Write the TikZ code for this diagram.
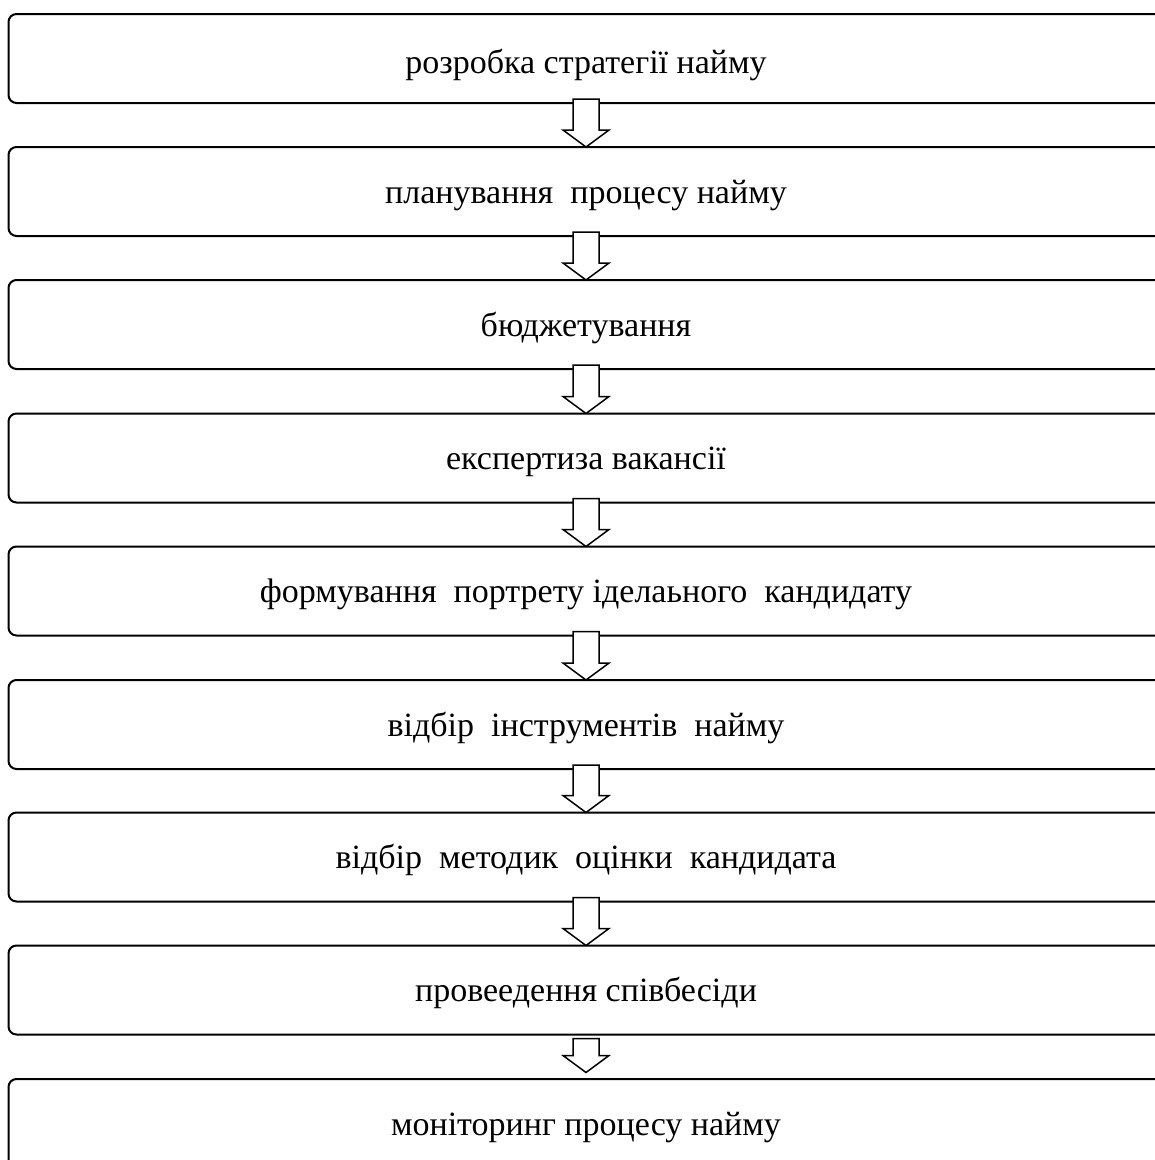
\documentclass[tikz,border=0pt]{standalone}
\usepackage{fontspec}
\setmainfont{Liberation Serif}
\usetikzlibrary{calc}
\tikzset{
  stagebox/.style={draw=black, line width=2pt, rounded corners=8pt, fill=none,
    minimum width=1155pt, minimum height=89pt, inner sep=0pt, outer sep=0pt,
    text height=28pt, text depth=5pt, font=\fontsize{34}{38}\selectfont, anchor=north},
  blockarrow/.style={draw=black, line width=1.5pt, fill=white, line join=miter}
}
\begin{document}
\begin{tikzpicture}[x=1pt, y=-1pt]
\useasboundingbox (0,0) rectangle (1155,1160);
\fill[white] (0,0) rectangle (1155,1160);
\node[stagebox, text height=32pt, text depth=3pt] (b1) at (586,14) {розробка стратегії найму};
\node[stagebox] (b2) at (586,147) {планування\ \ процесу найму};
\node[stagebox] (b3) at (586,280) {бюджетування};
\node[stagebox] (b4) at (586,413.5) {експертиза вакансії};
\node[stagebox] (b5) at (586,546.5) {формування\ \ портрету іделаьного\ \ кандидату};
\node[stagebox] (b6) at (586,680) {відбір\ \ інструментів\ \ найму};
\node[stagebox] (b7) at (586,812.5) {відбір\ \ методик\ \ оцінки\ \ кандидата};
\node[stagebox] (b8) at (586,945.5) {провеедення співбесіди};
\node[stagebox] (b9) at (586,1079) {моніторинг процесу найму};
% block arrows
\foreach \a/\b in {b1/b2,b2/b3,b3/b4,b4/b5,b5/b6,b6/b7,b7/b8}{
  \draw[blockarrow]
    ($(\a.south)+(-13,-4)$) -- ($(\a.south)+(13,-4)$) --
    ($(\b.north)+(13,-17)$) -- ($(\b.north)+(23,-17)$) --
    (\b.north) --
    ($(\b.north)+(-23,-17)$) -- ($(\b.north)+(-13,-17)$) -- cycle;
}
\draw[blockarrow]
  ($(b8.south)+(-13,4)$) -- ($(b8.south)+(13,4)$) --
  ($(b8.south)+(13,21)$) -- ($(b8.south)+(23,21)$) --
  ($(b8.south)+(0,38)$) --
  ($(b8.south)+(-23,21)$) -- ($(b8.south)+(-13,21)$) -- cycle;
\end{tikzpicture}
\end{document}
